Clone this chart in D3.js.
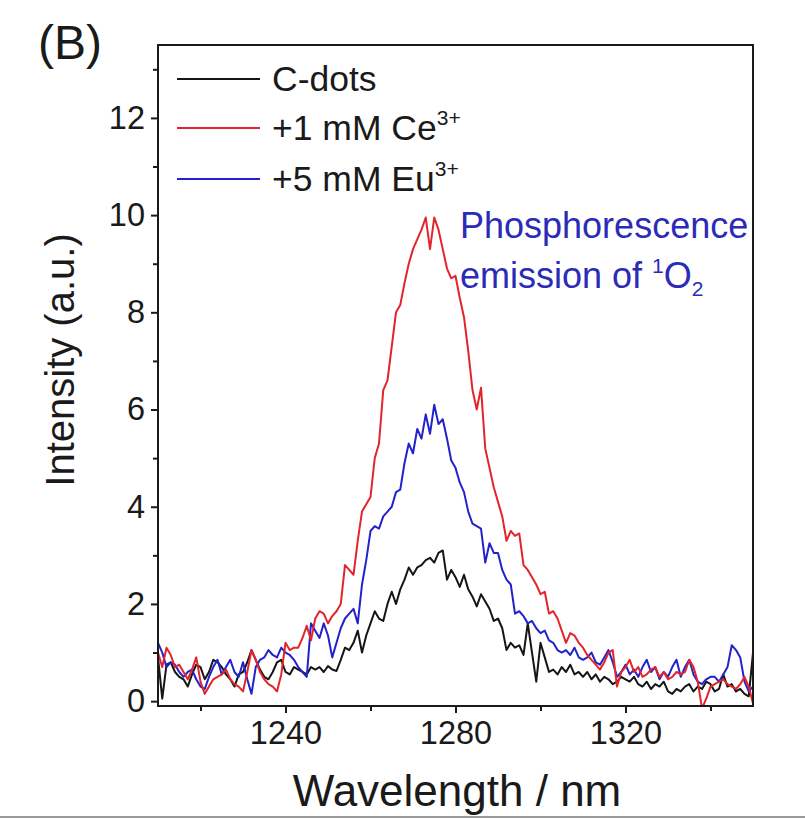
<!DOCTYPE html>
<html><head><meta charset="utf-8">
<script src="https://cdn.jsdelivr.net/npm/d3@7"></script>
<style>body{margin:0;background:#fff}svg text{font-family:"Liberation Sans",Arial,sans-serif}</style>
</head><body><svg id="c" width="805" height="821"></svg>
<script>
const wlStart = 1210, wlStep = 1;
const cdots = [0.9,0.05,0.75,0.8,0.6,0.5,0.45,0.3,0.55,0.75,
0.7,0.45,0.6,0.85,0.8,0.7,0.55,0.45,0.3,0.55,
0.6,0.8,1.05,0.85,0.65,0.5,0.45,0.6,0.8,0.85,
0.6,0.55,0.7,0.65,0.6,0.55,0.7,0.65,0.7,0.6,
0.72,0.65,0.62,0.85,1.1,1.05,1.2,1.45,1.0,1.35,
1.6,1.85,1.7,1.65,2.0,2.25,2.0,2.3,2.5,2.75,
2.6,2.75,2.8,2.9,2.95,2.85,3.05,3.1,2.5,2.7,
2.55,2.35,2.6,2.3,2.15,1.95,2.2,2.05,1.9,1.65,
1.7,1.5,1.05,1.2,1.1,1.15,0.95,1.6,1.0,0.4,
1.2,0.9,0.6,0.65,0.55,0.7,0.6,0.75,0.55,0.6,
0.5,0.6,0.45,0.55,0.4,0.5,0.45,0.35,0.4,0.5,
0.45,0.4,0.5,0.35,0.3,0.4,0.25,0.35,0.3,0.4,
0.2,0.15,0.25,0.2,0.3,0.35,0.2,0.3,0.25,0.4,
0.35,0.2,0.25,0.55,0.3,0.35,0.2,0.25,0.15,0.1,
1.0];
const ce = [1.0,0.7,1.1,0.95,0.7,0.75,0.6,0.45,0.65,0.9,
0.4,0.15,0.3,0.45,0.5,0.55,0.65,0.45,0.35,0.3,
0.2,0.6,1.05,0.85,0.6,0.45,0.35,0.3,0.2,0.55,
1.2,1.05,1.1,1.1,1.3,1.55,1.25,1.7,1.85,1.8,
1.6,1.75,1.85,2.0,2.8,2.7,2.6,3.3,3.9,4.05,
4.2,5.0,5.3,6.4,6.6,7.3,8.0,8.15,8.6,9.0,
9.3,9.5,9.7,9.95,9.3,9.95,9.7,9.3,8.9,8.7,
8.75,8.3,7.9,7.2,6.4,6.0,6.45,5.2,4.8,4.4,
4.1,3.8,3.3,3.5,3.4,3.45,2.8,2.7,2.55,2.4,
2.2,2.25,1.8,1.85,1.7,1.45,1.2,1.4,1.35,1.2,
1.1,0.95,0.85,0.75,0.65,0.8,1.0,1.05,0.3,0.6,
0.7,0.85,0.6,0.7,0.5,0.55,0.65,0.7,0.5,0.6,
0.45,0.5,0.6,0.55,0.6,0.85,0.7,0.4,-0.15,0.05,
0.3,0.35,0.4,0.45,0.35,0.3,0.25,0.35,0.5,0.3,
-0.05];
const eu = [1.2,1.0,0.7,0.8,0.75,0.6,0.5,0.6,0.65,0.45,
0.3,0.25,0.5,0.7,0.85,0.55,0.7,0.85,0.6,0.5,
0.8,0.45,0.15,0.7,0.85,0.9,1.05,0.95,0.9,1.1,
1.0,0.95,0.85,0.7,0.6,0.5,1.6,1.45,1.3,1.6,
1.35,0.9,1.2,1.5,1.7,1.8,1.9,1.6,2.4,2.9,
3.5,3.6,3.55,3.8,3.9,4.0,4.3,4.35,4.9,5.3,
5.1,5.6,5.4,5.9,5.5,6.1,5.7,5.8,5.4,4.95,
4.8,4.5,4.3,3.9,3.65,3.6,3.55,2.85,3.25,3.05,
3.05,2.7,2.5,2.4,1.8,1.85,1.75,1.6,1.65,1.5,
1.4,1.45,1.25,1.2,1.05,1.0,1.05,0.95,1.1,0.9,
0.85,0.9,1.0,0.8,0.75,0.9,1.05,0.8,0.5,0.6,
0.75,0.55,0.65,0.5,0.7,0.85,0.6,0.7,0.45,0.6,
0.5,0.7,0.85,0.5,0.7,0.85,0.55,0.4,0.35,0.45,
0.5,0.5,0.4,0.55,0.7,1.15,1.05,0.9,0.4,0.2,
0.3];
const seriesNames = ["C-dots","+1 mM Ce","+5 mM Eu"];
const seriesSup = ["","3+","3+"];
const seriesColors = ["#151515","#e3242b","#2222cc"];
const xMajor = [1240,1280,1320];
const xMinor = [1220,1260,1300,1340];
const yMajor = [0,2,4,6,8,10,12];
const yMinor = [1,3,5,7,9,11,13];

const svg = d3.select("#c");
const x = d3.scaleLinear().domain([1210,1350]).range([158,753]);
const y = d3.scaleLinear().domain([-0.1,13.5]).range([706,45]);
const ink = "#1a1a1a";

svg.append("clipPath").attr("id","clip").append("rect")
  .attr("x",158).attr("y",45).attr("width",595).attr("height",661);

const all = [cdots, ce, eu];
const line = d3.line().x((d,i)=>x(wlStart+i*wlStep)).y(d=>y(d));
const plotG = svg.append("g").attr("clip-path","url(#clip)");
[0,2,1].forEach(k=>{
  plotG.append("path").datum(all[k]).attr("d",line)
    .attr("fill","none").attr("stroke",seriesColors[k]).attr("stroke-width",2)
    .attr("stroke-linejoin","round");
});

const xAx = d3.axisBottom(x).tickValues(xMajor).tickSize(7).tickPadding(8).tickFormat(d3.format("d"));
const xAxMin = d3.axisBottom(x).tickValues(xMinor).tickSize(5).tickFormat("");
const yAx = d3.axisLeft(y).tickValues(yMajor).tickSize(7).tickPadding(6).tickFormat(d3.format("d"));
const yAxMin = d3.axisLeft(y).tickValues(yMinor).tickSize(5).tickFormat("");
function style(g){
  g.select(".domain").remove();
  g.selectAll("line").attr("stroke",ink).attr("stroke-width",2);
  g.selectAll("text").attr("fill",ink).style("font-size","32.5px");
}
svg.append("g").attr("transform","translate(0,706)").call(xAx).call(style);
svg.append("g").attr("transform","translate(0,706)").call(xAxMin).call(style);
svg.append("g").attr("transform","translate(158,0)").call(yAx).call(style);
svg.append("g").attr("transform","translate(158,0)").call(yAxMin).call(style);

svg.append("rect").attr("x",158).attr("y",45).attr("width",595).attr("height",661)
  .attr("fill","none").attr("stroke",ink).attr("stroke-width",2);

svg.append("text").attr("x",457).attr("y",806).attr("text-anchor","middle")
  .style("font-size","44px").attr("fill",ink).text("Wavelength / nm");
svg.append("text").attr("transform","translate(74,360) rotate(-90)").attr("text-anchor","middle")
  .style("font-size","40px").attr("fill",ink).text("Intensity (a.u.)");
svg.append("text").attr("x",38).attr("y",59).style("font-size","48px").attr("fill",ink).text("(B)");

const legY = [79,128,179];
seriesNames.forEach((n,i)=>{
  svg.append("line").attr("x1",177).attr("x2",260).attr("y1",legY[i]).attr("y2",legY[i])
    .attr("stroke",seriesColors[i]).attr("stroke-width",2);
  const t = svg.append("text").attr("x",272).attr("y",legY[i]+12).style("font-size","35.5px").attr("fill",ink);
  t.append("tspan").text(n);
  if(seriesSup[i]) t.append("tspan").attr("dy",-15).style("font-size","21px").text(seriesSup[i]);
});

const blue = "#2b2bb8";
svg.append("text").attr("x",460).attr("y",238).style("font-size","36px").attr("fill",blue).text("Phosphorescence");
const a2 = svg.append("text").attr("x",460).attr("y",288).style("font-size","36px").attr("fill",blue);
a2.append("tspan").text("emission of ");
a2.append("tspan").attr("dy",-15).style("font-size","21px").text("1");
a2.append("tspan").attr("dy",15).text("O");
a2.append("tspan").attr("dy",8).style("font-size","21px").text("2");

svg.append("line").attr("x1",0).attr("x2",805).attr("y1",817).attr("y2",817).attr("stroke","#999").attr("stroke-width",2);
</script></body></html>
